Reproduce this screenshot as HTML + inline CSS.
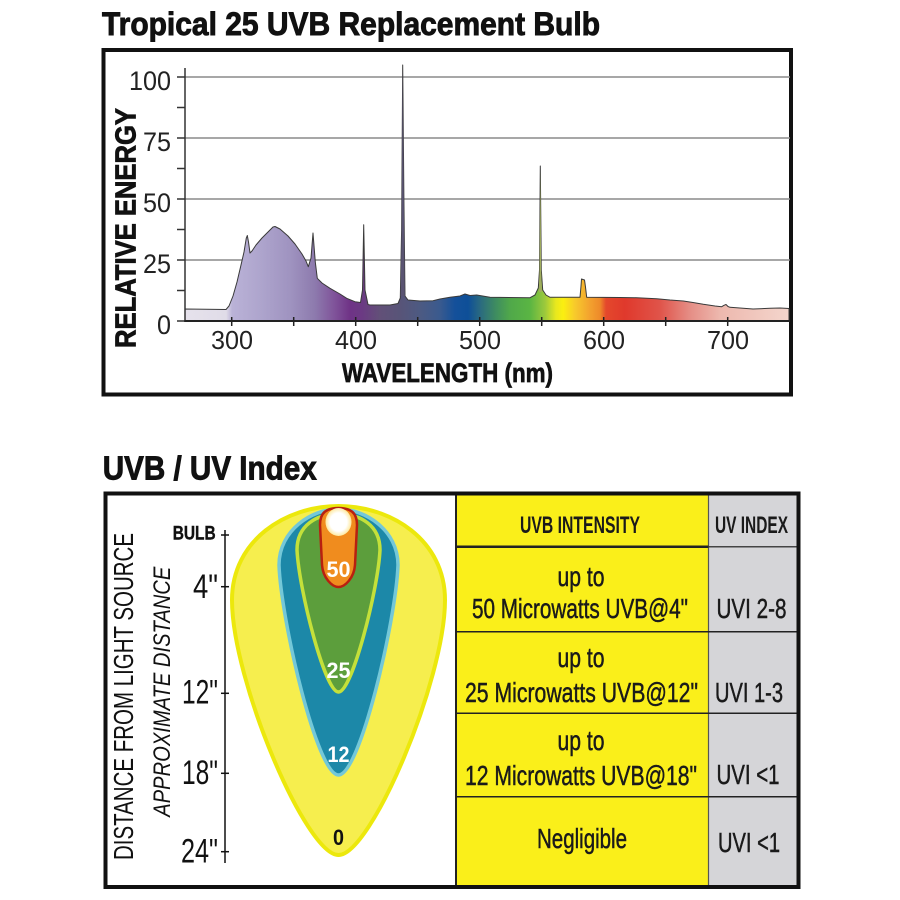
<!DOCTYPE html>
<html><head><meta charset="utf-8"><style>
html,body{margin:0;padding:0;background:#fff;}
svg{display:block;}
text{font-family:"Liberation Sans",sans-serif;}
</style></head><body>
<svg width="900" height="900" viewBox="0 0 900 900" xmlns="http://www.w3.org/2000/svg">
<defs>
<linearGradient id="spec" gradientUnits="userSpaceOnUse" x1="185" y1="0" x2="790" y2="0">
<stop offset="0" stop-color="#e6e2ec"/>
<stop offset="0.068" stop-color="#e0dce8"/>
<stop offset="0.078" stop-color="#bab2d7"/>
<stop offset="0.124" stop-color="#aea5cd"/>
<stop offset="0.174" stop-color="#9f93c0"/>
<stop offset="0.215" stop-color="#8d7aad"/>
<stop offset="0.248" stop-color="#7f5299"/>
<stop offset="0.273" stop-color="#6f3386"/>
<stop offset="0.293" stop-color="#6b3a83"/>
<stop offset="0.322" stop-color="#625078"/>
<stop offset="0.355" stop-color="#585478"/>
<stop offset="0.388" stop-color="#4d5a82"/>
<stop offset="0.421" stop-color="#3a5a8e"/>
<stop offset="0.446" stop-color="#14509a"/>
<stop offset="0.468" stop-color="#0e4f98"/>
<stop offset="0.488" stop-color="#2a6a80"/>
<stop offset="0.512" stop-color="#3d8a62"/>
<stop offset="0.537" stop-color="#50a84a"/>
<stop offset="0.570" stop-color="#5ab543"/>
<stop offset="0.595" stop-color="#9cc93c"/>
<stop offset="0.613" stop-color="#e8e81e"/>
<stop offset="0.625" stop-color="#fbef10"/>
<stop offset="0.645" stop-color="#f7c92c"/>
<stop offset="0.669" stop-color="#f3a22e"/>
<stop offset="0.686" stop-color="#ee8a2a"/>
<stop offset="0.696" stop-color="#e4482c"/>
<stop offset="0.727" stop-color="#e0392c"/>
<stop offset="0.785" stop-color="#e0544a"/>
<stop offset="0.835" stop-color="#e58e86"/>
<stop offset="0.884" stop-color="#edb8ae"/>
<stop offset="1" stop-color="#f4d6cd"/>
</linearGradient>
<radialGradient id="glow" cx="0.5" cy="0.5" r="0.5">
<stop offset="0" stop-color="#ffffff"/>
<stop offset="0.65" stop-color="#ffffff"/>
<stop offset="1" stop-color="#fde9a0"/>
</radialGradient>
</defs>

<!-- ===== TOP CHART ===== -->
<text x="102" y="35" font-size="32" font-weight="bold" fill="#111" stroke="#111" stroke-width="0.9" textLength="498" lengthAdjust="spacingAndGlyphs">Tropical 25 UVB Replacement Bulb</text>
<rect x="103.5" y="50" width="687.5" height="344.5" fill="none" stroke="#111" stroke-width="4"/>

<!-- gridlines -->
<g stroke="#8a8a8a" stroke-width="1.5">
<line x1="185" y1="77" x2="790" y2="77"/>
<line x1="185" y1="138" x2="790" y2="138"/>
<line x1="185" y1="199" x2="790" y2="199"/>
<line x1="185" y1="260" x2="790" y2="260"/>
</g>

<!-- spectrum -->
<path fill="url(#spec)" stroke="#3a3a3a" stroke-width="1" stroke-linejoin="round" d="M185,321 L185,309 L226,309.5 L229,306 L233,296 L237,282 L241,265 L244,252 L246.3,238 L247.3,235.5 L248.5,242 L250,253 L252,251 L256,245 L262,238 L268,232 L273,227 L275,226.5 L280,229 L288,236 L295,244 L302,254 L306,261 L308.3,266.7 L311,258 L313,233 L315.3,262 L317.3,278.3 L322,283 L330,288.3 L340,294 L346.7,298.3 L355,301.7 L360.5,302.5 L362.5,290 L363.7,224.7 L365,290 L368,304.5 L370,305 L390,305 L398,303.5 L400.3,298 L401.6,230 L402.7,65 L403.9,200 L405,296 L408,300 L420,301 L433,300.7 L440,299 L450,297.3 L460,296 L465,294 L470,295.5 L476.7,295 L490,297.3 L530,297.7 L535,295 L538.3,288 L539.5,270 L540.3,166 L541.3,270 L542.7,290 L546,295 L550,297.3 L580,297.3 L581,286 L581.5,279 L584.5,280 L585.5,287 L586.7,297.3 L620,297.5 L636.7,297.7 L656.7,298.7 L670,300 L683.3,301 L693,302.5 L703.3,304.3 L715,306 L721.7,306.7 L724,305.3 L726,304.5 L728,306.5 L730,307.3 L753,309 L770,308.3 L780,308 L789,308.5 L789,321 Z"/>
<!-- spike tints -->
<path fill="#5a5472" d="M401.6,230 L402.7,68 L403.8,200 L404.8,296 L400.6,296 Z"/>
<path fill="#a0ad5e" d="M539.5,272 L540.3,170 L541.2,272 L542,292 L538.8,292 Z"/>

<!-- axes -->
<line x1="185" y1="68" x2="185" y2="321" stroke="#333" stroke-width="1.5"/>
<line x1="184" y1="321" x2="790" y2="321" stroke="#222" stroke-width="2"/>
<g stroke="#333" stroke-width="1.5">
<line x1="177" y1="77" x2="185" y2="77"/>
<line x1="177" y1="107.5" x2="185" y2="107.5"/>
<line x1="177" y1="138" x2="185" y2="138"/>
<line x1="177" y1="168.5" x2="185" y2="168.5"/>
<line x1="177" y1="199" x2="185" y2="199"/>
<line x1="177" y1="229.5" x2="185" y2="229.5"/>
<line x1="177" y1="260" x2="185" y2="260"/>
<line x1="177" y1="290.5" x2="185" y2="290.5"/>
<line x1="177" y1="321" x2="185" y2="321"/>
</g>
<g stroke="#222" stroke-width="1.5">
<line x1="231.7" y1="317" x2="231.7" y2="326"/>
<line x1="293.7" y1="317" x2="293.7" y2="326"/>
<line x1="355.7" y1="317" x2="355.7" y2="326"/>
<line x1="417.7" y1="317" x2="417.7" y2="326"/>
<line x1="479.7" y1="317" x2="479.7" y2="326"/>
<line x1="541.7" y1="317" x2="541.7" y2="326"/>
<line x1="603.7" y1="317" x2="603.7" y2="326"/>
<line x1="665.7" y1="317" x2="665.7" y2="326"/>
<line x1="727.7" y1="317" x2="727.7" y2="326"/>
</g>

<!-- y labels -->
<g font-size="27" fill="#222" text-anchor="end">
<text x="171" y="90" textLength="42" lengthAdjust="spacingAndGlyphs">100</text>
<text x="171" y="151" textLength="28" lengthAdjust="spacingAndGlyphs">75</text>
<text x="171" y="212" textLength="28" lengthAdjust="spacingAndGlyphs">50</text>
<text x="171" y="273" textLength="28" lengthAdjust="spacingAndGlyphs">25</text>
<text x="171" y="334" textLength="14" lengthAdjust="spacingAndGlyphs">0</text>
</g>
<!-- x labels -->
<g font-size="26" fill="#222" text-anchor="middle">
<text x="232" y="349" textLength="42" lengthAdjust="spacingAndGlyphs">300</text>
<text x="356" y="349" textLength="42" lengthAdjust="spacingAndGlyphs">400</text>
<text x="480" y="349" textLength="42" lengthAdjust="spacingAndGlyphs">500</text>
<text x="604" y="349" textLength="42" lengthAdjust="spacingAndGlyphs">600</text>
<text x="728" y="349" textLength="42" lengthAdjust="spacingAndGlyphs">700</text>
</g>
<text x="342" y="382" font-size="27" font-weight="bold" fill="#111" stroke="#111" stroke-width="0.7" textLength="211" lengthAdjust="spacingAndGlyphs">WAVELENGTH (nm)</text>
<text transform="translate(135.5,228) rotate(-90)" x="0" y="0" text-anchor="middle" font-size="29" font-weight="bold" fill="#111" stroke="#111" stroke-width="0.8" textLength="240" lengthAdjust="spacingAndGlyphs">RELATIVE ENERGY</text>

<!-- ===== BOTTOM CHART ===== -->
<text x="102.7" y="479.3" font-size="33" font-weight="bold" fill="#111" stroke="#111" stroke-width="0.9" textLength="214" lengthAdjust="spacingAndGlyphs">UVB / UV Index</text>

<!-- table columns -->
<rect x="457" y="495" width="251.5" height="390" fill="#faef1a"/>
<rect x="708.5" y="495" width="88.5" height="390" fill="#d5d5d8"/>
<line x1="456" y1="495" x2="456" y2="885" stroke="#222" stroke-width="2"/>
<line x1="708.5" y1="495" x2="708.5" y2="885" stroke="#555" stroke-width="1.2"/>
<g stroke="#222">
<line x1="457" y1="546.7" x2="708.5" y2="546.7" stroke-width="2.5"/>
<line x1="708.5" y1="546.7" x2="797" y2="546.7" stroke-width="1.5" stroke="#444"/>
<line x1="457" y1="631.7" x2="797" y2="631.7" stroke-width="1.5"/>
<line x1="457" y1="713.3" x2="797" y2="713.3" stroke-width="1.5"/>
<line x1="457" y1="796.7" x2="797" y2="796.7" stroke-width="1.5"/>
</g>

<rect x="105.5" y="493.5" width="693" height="393.5" fill="none" stroke="#111" stroke-width="4"/>

<!-- table text -->
<g fill="#1a1a1a" text-anchor="middle">
<text x="580" y="533" font-size="24" font-weight="bold" textLength="120" lengthAdjust="spacingAndGlyphs">UVB INTENSITY</text>
<text x="751.5" y="533" font-size="24" font-weight="bold" textLength="73" lengthAdjust="spacingAndGlyphs">UV INDEX</text>
<g font-size="28" stroke="#1a1a1a" stroke-width="0.5">
<text x="581" y="586" textLength="47" lengthAdjust="spacingAndGlyphs">up to</text>
<text x="580" y="618" textLength="216" lengthAdjust="spacingAndGlyphs">50 Microwatts UVB@4"</text>
<text x="751.5" y="618" textLength="70" lengthAdjust="spacingAndGlyphs">UVI 2-8</text>
<text x="581" y="667" textLength="47" lengthAdjust="spacingAndGlyphs">up to</text>
<text x="581.5" y="702" textLength="233" lengthAdjust="spacingAndGlyphs">25 Microwatts UVB@12"</text>
<text x="749" y="702" textLength="68" lengthAdjust="spacingAndGlyphs">UVI 1-3</text>
<text x="581" y="750" textLength="47" lengthAdjust="spacingAndGlyphs">up to</text>
<text x="581" y="785" textLength="232" lengthAdjust="spacingAndGlyphs">12 Microwatts UVB@18"</text>
<text x="748" y="784" textLength="63" lengthAdjust="spacingAndGlyphs">UVI &lt;1</text>
<text x="582" y="848" textLength="90" lengthAdjust="spacingAndGlyphs">Negligible</text>
<text x="749" y="852" textLength="62" lengthAdjust="spacingAndGlyphs">UVI &lt;1</text>
</g>
</g>

<!-- teardrop diagram -->
<path fill="#f6ee4e" stroke="#ece80c" stroke-width="4" d="M338.5,506 C391,506 445,540 445,600 C445,680 371,855 338.5,855 C306,855 232,680 232,600 C232,540 286,506 338.5,506 Z"/>
<path fill="#1c88a8" stroke="#74c8d8" stroke-width="3.5" d="M338.5,509 C365,509 398,530 398,565 C396,620 360,775 338.5,775 C317,775 281,620 279,565 C279,530 312,509 338.5,509 Z"/>
<path fill="#5c9e3c" stroke="#c4e03a" stroke-width="3.5" d="M338.5,514 C360,514 380,525 380,550 C378,590 352,692 338.5,692 C325,692 299,590 297,550 C297,525 317,514 338.5,514 Z"/>
<path fill="#f08c1e" stroke="#b82010" stroke-width="2.5" d="M338.5,508 C350,508 357,512 357,525 L355,565 C354,578 345,587 338.5,587 C332,587 323,578 322,565 L320,525 C320,512 327,508 338.5,508 Z"/>
<ellipse cx="338.5" cy="522" rx="13" ry="14" fill="url(#glow)"/>

<g font-weight="bold" text-anchor="middle" font-size="22">
<text x="338.5" y="577" fill="#ffffff" textLength="24" lengthAdjust="spacingAndGlyphs">50</text>
<text x="338.5" y="678" fill="#ffffff" textLength="24" lengthAdjust="spacingAndGlyphs">25</text>
<text x="338.5" y="762" fill="#ffffff" textLength="22" lengthAdjust="spacingAndGlyphs">12</text>
<text x="338.5" y="845" fill="#111" textLength="11" lengthAdjust="spacingAndGlyphs">0</text>
</g>

<!-- distance axis -->
<line x1="225" y1="530" x2="225" y2="863" stroke="#111" stroke-width="1.5"/>
<g stroke="#111" stroke-width="1.5">
<line x1="221" y1="535" x2="229" y2="535"/>
<line x1="221" y1="586.7" x2="229" y2="586.7"/>
<line x1="221" y1="693.3" x2="229" y2="693.3"/>
<line x1="221" y1="773.3" x2="229" y2="773.3"/>
<line x1="221" y1="851.7" x2="229" y2="851.7"/>
</g>
<text x="172.7" y="539.3" font-size="19" font-weight="bold" fill="#111" stroke="#111" stroke-width="0.4" textLength="43" lengthAdjust="spacingAndGlyphs">BULB</text>
<g font-size="34" fill="#111" text-anchor="end">
<text x="218" y="598" textLength="25" lengthAdjust="spacingAndGlyphs">4"</text>
<text x="218" y="703.5" textLength="36" lengthAdjust="spacingAndGlyphs">12"</text>
<text x="218" y="784" textLength="36" lengthAdjust="spacingAndGlyphs">18"</text>
<text x="218" y="862.5" textLength="37" lengthAdjust="spacingAndGlyphs">24"</text>
</g>
<text transform="translate(133,696.5) rotate(-90)" x="0" y="0" text-anchor="middle" font-size="28" fill="#111" textLength="327" lengthAdjust="spacingAndGlyphs">DISTANCE FROM LIGHT SOURCE</text>
<text transform="translate(170,691.7) rotate(-90)" x="0" y="0" text-anchor="middle" font-size="24" font-style="italic" fill="#111" textLength="250" lengthAdjust="spacingAndGlyphs">APPROXIMATE DISTANCE</text>
</svg>
</body></html>
